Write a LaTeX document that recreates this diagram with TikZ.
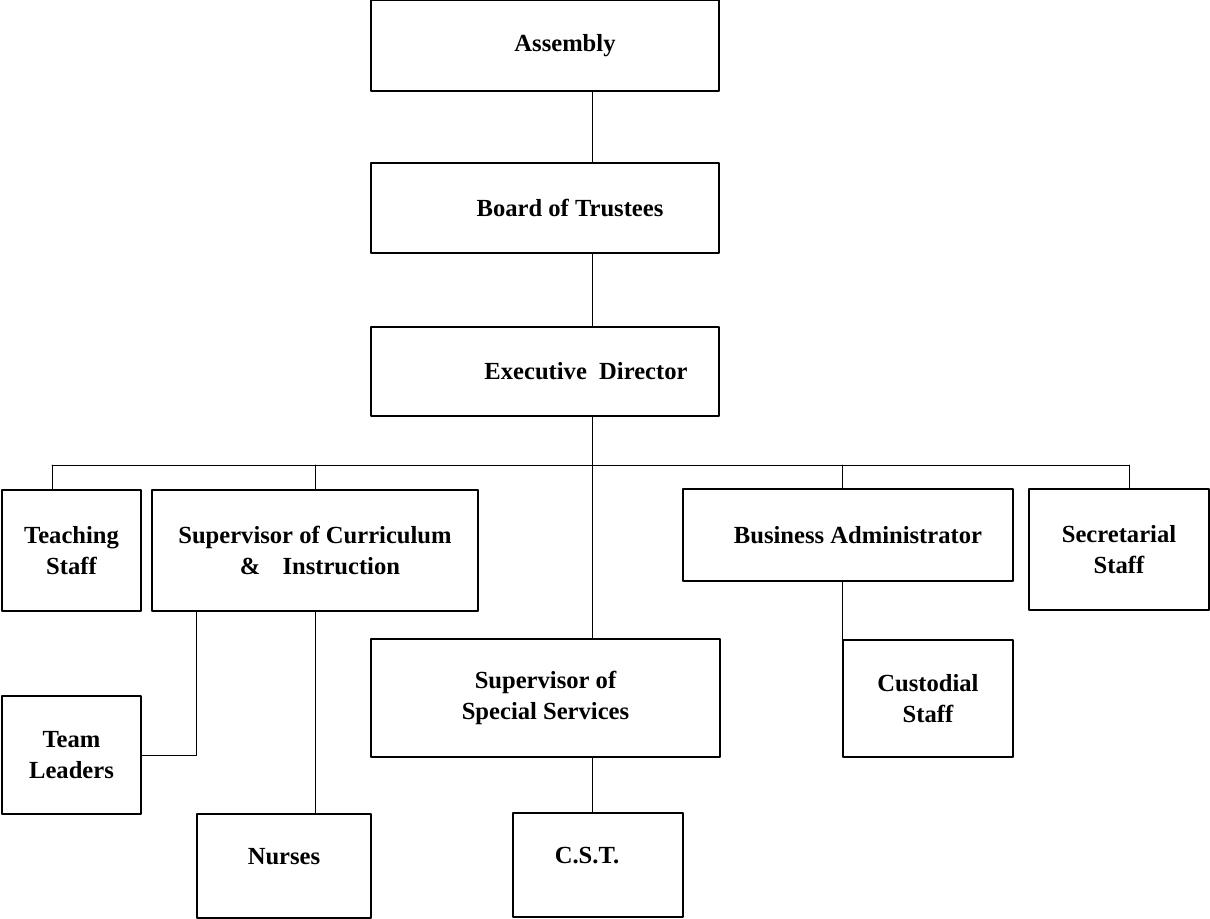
\documentclass[tikz,border=0pt]{standalone}
\usepackage{fontspec}
\setmainfont{Liberation Serif}

\begin{document}
\begin{tikzpicture}[line cap=round,line join=round,x=0.02cm,y=-0.02cm,
    box/.style={draw,line width=0.8pt,align=center,inner sep=2pt,font=\bfseries\fontsize{14}{17.5}\selectfont},
    raised/.style={text depth=11pt},
    link/.style={line width=0.5pt}]
\useasboundingbox (0,0) rectangle (1210,919);
% top of the chart
\node[box,minimum width=6.96cm,minimum height=1.82cm] (assembly) at (545,45.5) {\hspace*{0.8cm}Assembly};
\node[box,minimum width=6.96cm,minimum height=1.80cm] (board) at (545,208) {\hspace*{1cm}Board of Trustees};
\node[box,minimum width=6.96cm,minimum height=1.78cm] (exec) at (545,371.5) {\hspace*{1.64cm}Executive\ \ Director};
% second row
\node[box,minimum width=2.78cm,minimum height=2.42cm] (teach) at (71.5,550.5) {Teaching\\Staff};
\node[box,minimum width=6.52cm,minimum height=2.42cm] (curric) at (315,550.5) {Supervisor of Curriculum\\\hspace*{0.2cm}\&\hspace{0.9em}Instruction};
\node[box,minimum width=6.6cm,minimum height=1.84cm] (business) at (848,535) {\hspace*{0.4cm}Business Administrator};
\node[box,minimum width=3.6cm,minimum height=2.42cm] (secret) at (1119,549.5) {Secretarial\\Staff};
% lower rows
\node[box,minimum width=6.98cm,minimum height=2.36cm] (special) at (545.5,698) {Supervisor of\\Special Services};
\node[box,minimum width=3.4cm,minimum height=2.34cm] (custod) at (928,698.5) {Custodial\\Staff};
\node[box,minimum width=2.78cm,minimum height=2.36cm] (team) at (71.5,755) {Team\\Leaders};
\node[box,raised,minimum width=3.48cm,minimum height=2.08cm] (nurses) at (284,866) {Nurses};
\node[box,raised,minimum width=3.4cm,minimum height=2.08cm] (cst) at (598,865) {C.S.T.\hspace*{0.44cm}};
% connectors
\coordinate (trunk) at (592,0);
\coordinate (bus-l) at (52,465);
\coordinate (bus-r) at (1129,465);
\draw[link] (assembly.south -| trunk) -- (board.north -| trunk);
\draw[link] (board.south -| trunk) -- (exec.north -| trunk);
\draw[link] (exec.south -| trunk) -- (special.north -| trunk);
\draw[link] (bus-l) -- (bus-r);
\draw[link] (bus-l) -- (bus-l |- teach.north);
\draw[link] (bus-r) -- (bus-r |- secret.north);
\draw[link] (curric.north) -- (curric.north |- bus-l);
\draw[link] (custod.north west |- bus-l) -- (custod.north west |- business.north);
\draw[link] (custod.north west |- business.south) -- (custod.north west);
\draw[link] (nurses.north west |- curric.south) |- (team.east);
\draw[link] (curric.south) -- (curric.south |- nurses.north);
\draw[link] (special.south -| trunk) -- (cst.north -| trunk);
\end{tikzpicture}
\end{document}
